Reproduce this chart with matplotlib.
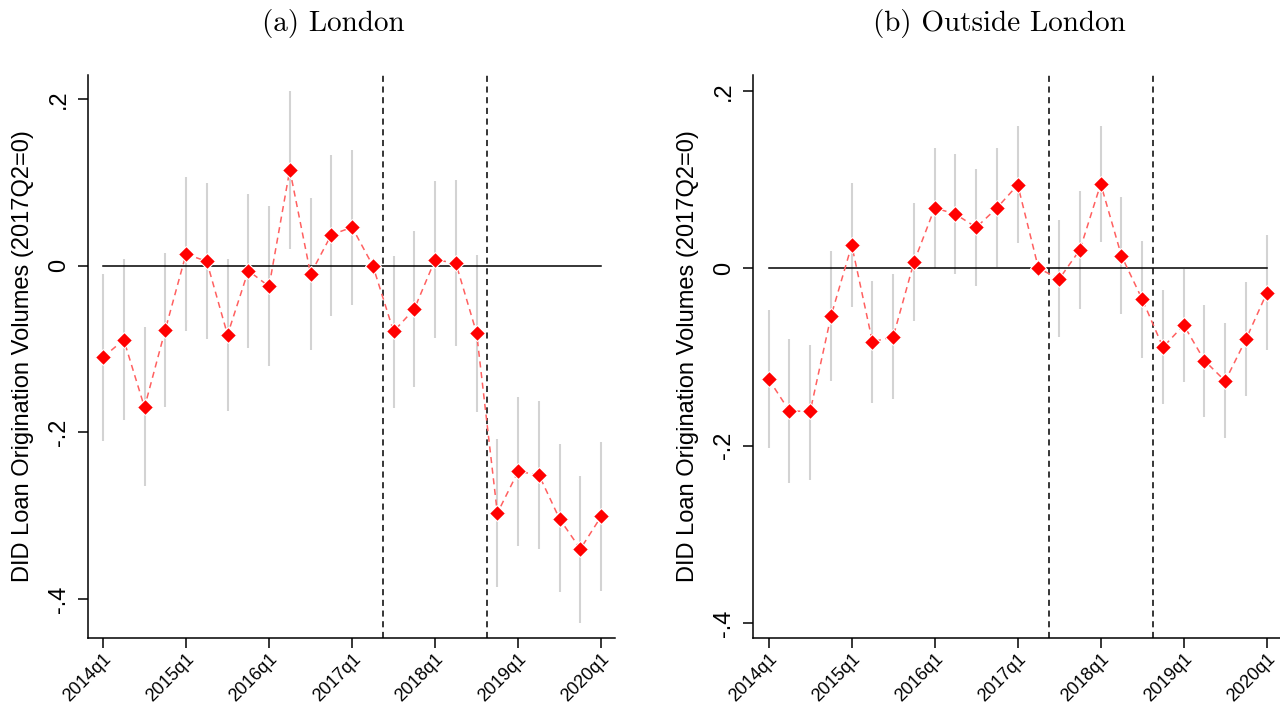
import numpy as np
import matplotlib
matplotlib.use("Agg")
import matplotlib.pyplot as plt

quarters = ["2014q1", "2014q2", "2014q3", "2014q4", "2015q1", "2015q2", "2015q3", "2015q4",
            "2016q1", "2016q2", "2016q3", "2016q4", "2017q1", "2017q2", "2017q3", "2017q4",
            "2018q1", "2018q2", "2018q3", "2018q4", "2019q1", "2019q2", "2019q3", "2019q4",
            "2020q1"]
tick_labels = ["2014q1", "2015q1", "2016q1", "2017q1", "2018q1", "2019q1", "2020q1"]
event_lines = [13.5, 18.5]  # between 2017q2/q3 and 2018q3/q4

# (a) London
london_coef = [-0.110, -0.089, -0.170, -0.077, 0.014, 0.005, -0.083, -0.006, -0.025, 0.115,
               -0.010, 0.037, 0.046, 0.0, -0.079, -0.052, 0.007, 0.003, -0.081, -0.297,
               -0.247, -0.251, -0.304, -0.340, -0.301]
london_hi = [-0.010, 0.008, -0.074, 0.015, 0.106, 0.099, 0.008, 0.086, 0.071, 0.210,
             0.081, 0.133, 0.139, np.nan, 0.012, 0.041, 0.101, 0.103, 0.013, -0.208,
             -0.158, -0.162, -0.214, -0.252, -0.212]
london_lo = [-0.210, -0.185, -0.265, -0.170, -0.079, -0.088, -0.175, -0.099, -0.120, 0.020,
             -0.101, -0.060, -0.047, np.nan, -0.171, -0.146, -0.087, -0.097, -0.176, -0.386,
             -0.336, -0.340, -0.392, -0.429, -0.390]

# (b) Outside London
outside_coef = [-0.125, -0.161, -0.161, -0.054, 0.026, -0.083, -0.077, 0.007, 0.068, 0.061,
                0.046, 0.068, 0.094, 0.0, -0.012, 0.021, 0.095, 0.014, -0.035, -0.089,
                -0.064, -0.104, -0.127, -0.080, -0.028]
outside_hi = [-0.047, -0.080, -0.086, 0.020, 0.096, -0.014, -0.007, 0.074, 0.135, 0.129,
              0.112, 0.135, 0.160, np.nan, 0.054, 0.087, 0.160, 0.080, 0.031, -0.025,
              -0.001, -0.041, -0.062, -0.016, 0.037]
outside_lo = [-0.203, -0.242, -0.238, -0.127, -0.044, -0.152, -0.147, -0.059, 0.000, -0.006,
              -0.020, 0.001, 0.029, np.nan, -0.077, -0.046, 0.030, -0.052, -0.101, -0.153,
              -0.128, -0.168, -0.191, -0.144, -0.092]

ylabel = "DID Loan Origination Volumes (2017Q2=0)"
sans = ["Liberation Sans", "DejaVu Sans"]

fig = plt.figure(figsize=(12.8, 7.07), dpi=100)
ax1 = fig.add_axes([0.0688, 0.0976, 0.4117, 0.7963])
ax2 = fig.add_axes([0.5883, 0.0976, 0.4117, 0.7963])

panels = [
    (ax1, "(a) London", london_coef, london_lo, london_hi, (-0.4468, 0.2287), (-0.72, 24.67)),
    (ax2, "(b) Outside London", outside_coef, outside_lo, outside_hi, (-0.4165, 0.2177), (-0.757, 24.64)),
]

x = np.arange(len(quarters))
for ax, title, coef, lo, hi, ylim, xlim in panels:
    ax.vlines(x, lo, hi, color="#d3d3d3", lw=1.5, zorder=1)
    ax.plot([x[0], x[-1]], [0, 0], color="black", lw=1.1, zorder=2)
    for v in event_lines:
        ax.axvline(v, color="black", lw=1.1, ls=(0, (4, 3)), zorder=2)
    ax.plot(x, coef, color="#ff6060", lw=1.1, ls=(0, (4, 3)), zorder=3)
    ax.plot(x, coef, ls="none", marker="D", ms=8, mfc="red", mec="white", mew=0.8, zorder=4)

    ax.set_xlim(*xlim)
    ax.set_ylim(*ylim)
    ax.set_xticks([quarters.index(t) for t in tick_labels])
    ax.set_xticklabels(tick_labels, rotation=45, ha="right", va="top",
                       rotation_mode="anchor", fontsize=13, family=sans)
    ax.set_yticks([0.2, 0, -0.2, -0.4])
    ax.set_yticklabels([".2", "0", "-.2", "-.4"], rotation=90, va="center",
                       fontsize=17, family=sans)
    ax.set_ylabel(ylabel, fontsize=17, family=sans, labelpad=10)
    ax.tick_params(axis="both", direction="out", length=7, width=1.1, color="black")
    ax.tick_params(axis="y", pad=6)
    ax.tick_params(axis="x", pad=2)
    for s in ["top", "right"]:
        ax.spines[s].set_visible(False)
    for s in ["left", "bottom"]:
        ax.spines[s].set_linewidth(1.1)

fig.text(0.2605, 0.967, "(a) London", ha="center", va="center", fontsize=21, family="cmr10")
fig.text(0.781, 0.967, "(b) Outside London", ha="center", va="center", fontsize=21, family="cmr10")

fig.savefig("out.png", dpi=100)
